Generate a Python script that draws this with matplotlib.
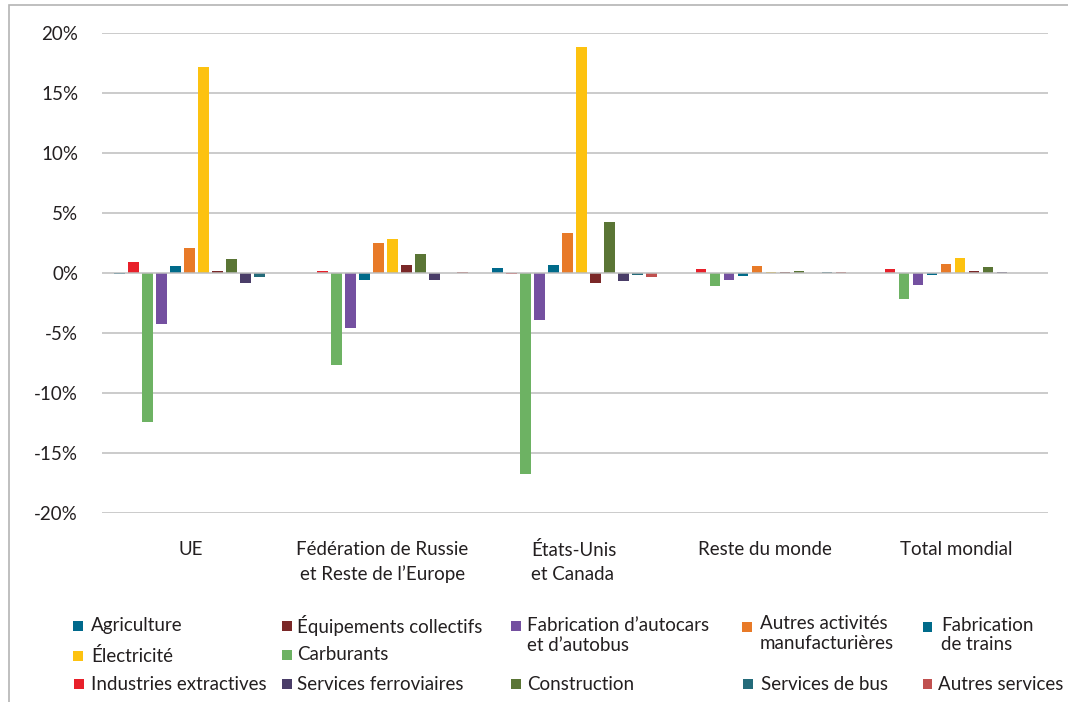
import matplotlib
matplotlib.use("Agg")
import matplotlib.pyplot as plt
from matplotlib.patches import Rectangle
import numpy as np

# regions (groupes de barres)
regions = ["UE", "Fédération de Russie\net Reste de l’Europe", "États-Unis\net Canada",
           "Reste du monde", "Total mondial"]
yticks = [-20, -15, -10, -5, 0, 5, 10, 15, 20]
ytick_labels = ["-20%", "-15%", "-10%", "-5%", "0%", "5%", "10%", "15%", "20%"]

# variations en % par secteur (UE, Russie, USA, Reste, Total)
agriculture = [-0.05, 0.0, 0.45, 0.0, 0.0]
industries_extractives = [0.9, 0.2, -0.1, 0.3, 0.3]
carburants = [-12.4, -7.65, -16.75, -1.05, -2.2]
autocars = [-4.25, -4.6, -3.9, -0.55, -1.0]
trains = [0.6, -0.6, 0.7, -0.25, -0.15]
autres_manuf = [2.05, 2.5, 3.3, 0.55, 0.75]
electricite = [17.2, 2.8, 18.8, 0.1, 1.25]
equipements = [0.2, 0.7, -0.8, 0.05, 0.15]
construction = [1.15, 1.55, 4.25, 0.2, 0.5]
services_ferro = [-0.8, -0.55, -0.7, 0.0, 0.05]
services_bus = [-0.3, 0.0, -0.2, 0.05, 0.0]
autres_services = [0.0, 0.1, -0.3, 0.05, 0.0]

# ordre des barres dans chaque groupe
series = [
    ("Agriculture", agriculture, "#00698c"),
    ("Industries extractives", industries_extractives, "#e8202a"),
    ("Carburants", carburants, "#6db263"),
    ("Fabrication d’autocars\net d’autobus", autocars, "#7450a0"),
    ("Fabrication\nde trains", trains, "#006b8a"),
    ("Autres activités\nmanufacturières", autres_manuf, "#e87a28"),
    ("Électricité", electricite, "#fdc210"),
    ("Équipements collectifs", equipements, "#7a2828"),
    ("Construction", construction, "#5a7535"),
    ("Services ferroviaires", services_ferro, "#4a3d68"),
    ("Services de bus", services_bus, "#246b7a"),
    ("Autres services", autres_services, "#c0504f"),
]

plt.rcParams['font.family'] = ['Lato', 'DejaVu Sans']
W, H = 1068, 702
fig = plt.figure(figsize=(W/100, H/100), dpi=100)

def fx(x):
    return x / W
def fy(y):
    return 1 - y / H

# cadre
fig.add_artist(Rectangle((fx(9), fy(760)), 1.2, fy(5) - fy(760), transform=fig.transFigure,
                         fill=False, edgecolor="#b4b4b4", linewidth=1.2))

ax = fig.add_axes([fx(101.7), fy(513), fx(1047.7) - fx(101.7), fy(33) - fy(513)])

step = 0.074
width = 0.057
x = np.arange(len(regions))
for i, (lab, vals, col) in enumerate(series):
    off = (i - (len(series) - 1) / 2) * step
    ax.bar(x + off, vals, width, color=col, zorder=2, linewidth=0)

fs = 13.5
ax.set_xlim(-0.5, len(regions) - 0.5)
ax.set_ylim(-20, 20)
ax.set_yticks(yticks)
ax.set_yticklabels(ytick_labels)
for t in yticks:
    ax.axhline(t, color="#bdbdbd", linewidth=1.1, zorder=3 if t == 0 else 1)
ax.set_xticks(x * 1.012 - 0.03)
ax.set_xticklabels(regions)
for lbl in ax.get_xticklabels():
    lbl.set_multialignment("center")
    lbl.set_linespacing(1.5)
ax.get_xticklabels()[2].set_multialignment("left")
ax.tick_params(axis="both", length=0, labelsize=fs, colors="#231f20")
ax.tick_params(axis="y", pad=17)
ax.tick_params(axis="x", pad=20)
for s in ax.spines.values():
    s.set_visible(False)

# legende placee a la main
leg_pos = {
    "Agriculture": (73, 626, 91, 626),
    "Équipements collectifs": (282, 626, 297, 626),
    "Fabrication d’autocars\net d’autobus": (511, 626, 527, 635.5),
    "Autres activités\nmanufacturières": (742, 627, 760, 633.5),
    "Fabrication\nde trains": (923, 627, 941, 635),
    "Électricité": (73, 656, 91, 656),
    "Carburants": (282, 655, 297, 655),
    "Industries extractives": (74, 684, 91, 684),
    "Services ferroviaires": (282, 684, 297, 684),
    "Construction": (511, 684, 527, 684),
    "Services de bus": (743, 684, 761, 684),
    "Autres services": (923, 684, 938, 684),
}
sq = 9.5
for lab, vals, col in series:
    sx, sy, tx, ty = leg_pos[lab]
    fig.add_artist(Rectangle((fx(sx), fy(sy + sq/2)), sq / W, sq / H,
                             transform=fig.transFigure, color=col, linewidth=0))
    fig.text(fx(tx), fy(ty), lab, fontsize=fs, color="#231f20", va="center", ha="left",
             linespacing=1.2)

fig.savefig("out.png", dpi=100)
